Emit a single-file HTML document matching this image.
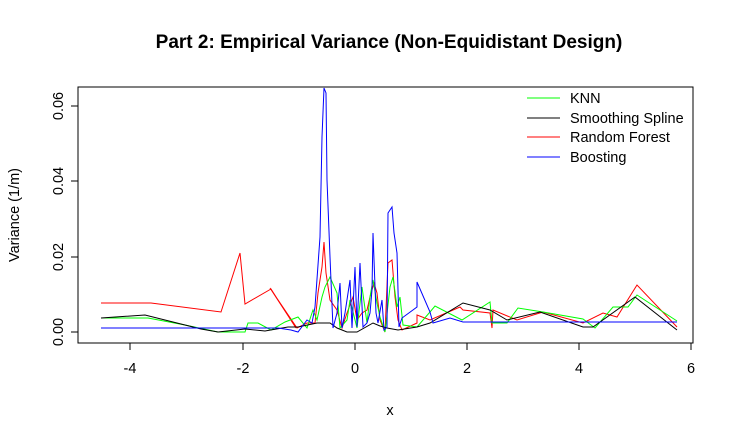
<!DOCTYPE html>
<html><head><style>body{margin:0;background:#fff}svg{display:block}text{font-family:"Liberation Sans",Arial,sans-serif}</style></head>
<body>
<svg width="740" height="440" viewBox="0 0 740 440">
<rect width="740" height="440" fill="#fff"/>
<text x="389" y="48" text-anchor="middle" font-size="19" font-weight="bold">Part 2: Empirical Variance (Non-Equidistant Design)</text>
<rect x="78" y="87" width="615" height="256" fill="none" stroke="#000"/>
<g stroke="#000">
<line x1="130" y1="343" x2="130" y2="350"/><line x1="243" y1="343" x2="243" y2="350"/><line x1="355" y1="343" x2="355" y2="350"/><line x1="467" y1="343" x2="467" y2="350"/><line x1="579" y1="343" x2="579" y2="350"/><line x1="691" y1="343" x2="691" y2="350"/>
<line x1="78" y1="332" x2="71" y2="332"/><line x1="78" y1="257" x2="71" y2="257"/><line x1="78" y1="181" x2="71" y2="181"/><line x1="78" y1="106" x2="71" y2="106"/>
</g>
<g font-size="14.5" text-anchor="middle">
<text x="130" y="373">-4</text><text x="243" y="373">-2</text><text x="355" y="373">0</text><text x="467" y="373">2</text><text x="579" y="373">4</text><text x="691" y="373">6</text>
<text transform="translate(63,332) rotate(-90)">0.00</text>
<text transform="translate(63,257) rotate(-90)">0.02</text>
<text transform="translate(63,181) rotate(-90)">0.04</text>
<text transform="translate(63,106) rotate(-90)">0.06</text>
<text x="390" y="415">x</text>
<text transform="translate(19,215) rotate(-90)">Variance (1/m)</text>
</g>
<g fill="none" stroke-width="1">
<polyline stroke="#f00" points="101,303 151,303 221,312 240,253 245,304 271,289 296,328 270,288 297,328 307,323 315,323 318,293 322,267 324,242 326,273 330,300 337,310 342,328 347,313 353,297 357,320 362,313 367,310 370,297 374,283 377,293 380,320 385,332 388,263 392,260 395,297 398,320 402,330 417,323 417,315 430,320 460,307 463,310 490,313 492,328 493,310 517,320 543,312 583,323 603,313 617,317 637,285 677,327"/>
<polyline stroke="#0f0" points="101,318 148,318 185,325 218,332 245,332 248,323 258,323 271,330 285,322 298,317 307,328 313,310 317,320 322,297 325,287 330,277 337,293 340,328 347,320 350,300 357,328 362,287 367,323 370,297 373,280 377,303 380,317 385,332 390,287 393,277 397,307 400,297 403,325 417,327 430,312 435,306 462,320 490,302 492,323 507,323 518,308 543,312 583,319 595,328 613,307 628,307 637,295 677,321"/>
<polyline stroke="#000" points="101,318 145,315 201,329 218,332 245,329 265,331 288,327 298,327 317,323 330,323 337,328 347,332 357,332 373,323 380,326 387,328 398,330 417,327 430,323 463,303 490,310 507,320 540,312 583,327 593,327 635,297 677,330"/>
<polyline stroke="#00f" points="101,328 278,328 291,330 298,332 307,320 312,323 315,307 320,237 322,137 324,88 326,93 327,180 330,257 333,328 337,313 340,283 342,328 345,313 350,280 352,328 355,267 357,327 360,263 363,327 367,323 370,313 372,290 373,233 376,313 378,323 382,300 384,330 387,327 388,213 392,207 394,233 397,253 399,327 402,318 417,307 417,282 430,312 433,323 450,318 463,322 677,322"/>
</g>
<g font-size="14.5">
<line x1="527" y1="98" x2="560" y2="98" stroke="#0f0"/><text x="570" y="103">KNN</text>
<line x1="527" y1="118" x2="560" y2="118" stroke="#000"/><text x="570" y="123">Smoothing Spline</text>
<line x1="527" y1="137" x2="560" y2="137" stroke="#f00"/><text x="570" y="142">Random Forest</text>
<line x1="527" y1="157" x2="560" y2="157" stroke="#00f"/><text x="570" y="162">Boosting</text>
</g>
</svg>
</body></html>
